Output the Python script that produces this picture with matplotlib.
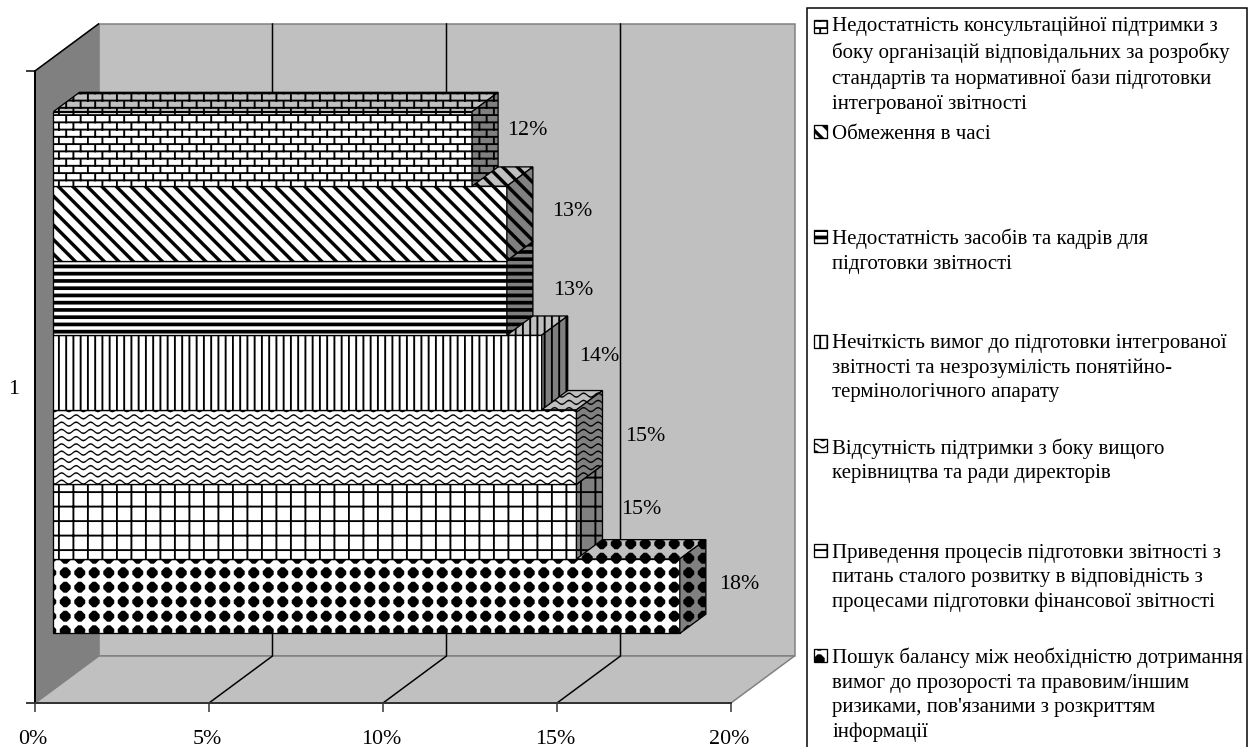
import warnings
import numpy as np
import matplotlib
matplotlib.use("Agg")
import matplotlib.pyplot as plt
import matplotlib.hatch as mhatch
from matplotlib.path import Path
from matplotlib.patches import Polygon, Rectangle
from matplotlib.legend_handler import HandlerPatch
from matplotlib.transforms import ScaledTranslation

warnings.filterwarnings("ignore")

# ---------- data (bottom bar first) ----------
values = [18.0, 15.03, 15.03, 14.03, 13.03, 13.03, 12.03]
category = "1"
x_ticks = [0, 5, 10, 15, 20]
labels = [
    ["Пошук балансу між необхідністю дотримання",
     "вимог до прозорості та правовим/іншим",
     "ризиками, пов'язаними з розкриттям", "інформації"],
    ["Приведення процесів підготовки звітності з",
     "питань сталого розвитку в відповідність з",
     "процесами підготовки фінансової звітності"],
    ["Відсутність підтримки з боку вищого",
     "керівництва та ради директорів"],
    ["Нечіткість вимог до підготовки інтегрованої",
     "звітності та незрозумілість понятійно-",
     "термінологічного апарату"],
    ["Недостатність засобів та кадрів для",
     "підготовки звітності"],
    ["Обмеження в часі"],
    ["Недостатність консультаційної підтримки з",
     "боку організацій відповідальних за розробку",
     "стандартів та нормативної бази підготовки",
     "інтегрованої звітності"],
]
patterns = ["d", "g", "w", "v", "h", "s", "b"]
label_offsets_px = [(59, 12), (65, 12), (69, 11), (58, 16), (66, 7), (65, 12), (55, 18)]

# ---------- figure geometry ----------
W, H, DPI = 1257, 747, 116
PT = 72 / DPI
AX_L, AX_R, AX_T, AX_B = 35, 731, 71, 703
BAR_PX = 74.55
GAP = 0.75
DEPTH_X_PX, DEPTH_Y_PX = 63.5, 47.0
BAR_D0, BAR_D1 = 0.29, 0.70
X_MAX = 20.0
Y_MAX = (AX_B - AX_T) / BAR_PX
DX = DEPTH_X_PX * X_MAX / (AX_R - AX_L)
DY = DEPTH_Y_PX / BAR_PX

LIGHT, DARK = "#c0c0c0", "#808080"
plt.rcParams["font.family"] = ["Liberation Serif", "DejaVu Serif"]
plt.rcParams["hatch.linewidth"] = 0.05


# ---------- 8x8 fill patterns as custom hatches ----------
def rect(x0, y0, x1, y1):
    return [(x0, y0), (x1, y0), (x1, y1), (x0, y1)]


def tile_polys(kind):
    n = 8                       # pattern repeats in one hatch tile
    c = 1 / (n * 8)             # one pattern cell
    polys = []
    if kind == "h":
        for k in range(2 * n):
            y = k / (2 * n)
            polys.append(rect(0, y, 1, y + 2 * c))
    elif kind == "v":
        for k in range(2 * n):
            x = k / (2 * n)
            polys.append(rect(x, 0, x + c, 1))
    elif kind == "g":
        for k in range(n):
            polys.append(rect(k / n, 0, k / n + c, 1))
            polys.append(rect(0, k / n, 1, k / n + c))
    elif kind == "b":
        for r in range(2 * n):
            y = r / (2 * n)
            polys.append(rect(0, y, 1, y + c))
            for k in range(n):
                x = (k + (0.5 if r % 2 else 0)) / n
                polys.append(rect(x, y, x + c, y + 1 / (2 * n)))
    elif kind == "s":
        w = 2.6 * c
        for k in range(-n, 2 * n):
            x = k / n
            polys.append([(x, 1), (x + w, 1), (x + w + 1, 0), (x + 1, 0)])
    elif kind == "w":
        th = 0.8 * c
        amp = 1.1 * c
        t = np.linspace(0, 1, 65)
        for r in range(2 * n):
            y0 = (r + 0.5) / (2 * n)
            y = y0 + amp * np.sin(2 * np.pi * n * t)
            polys.append(list(zip(t, y + th / 2)) + list(zip(t[::-1], (y - th / 2)[::-1])))
    elif kind == "d":
        a, b = 3.0 * c, 0.9 * c
        for i in range(n):
            for j in range(n):
                cx, cy = (i + .5) / n, (j + .5) / n
                polys.append([(cx - a, cy - b), (cx - b, cy - a), (cx + b, cy - a), (cx + a, cy - b),
                              (cx + a, cy + b), (cx + b, cy + a), (cx - b, cy + a), (cx - a, cy + b)])
    return polys


class TileHatch(mhatch.HatchPatternBase):
    def __init__(self, hatch, density):
        self.polys = []
        for ch in "hvgbswd":
            if ch in hatch:
                self.polys += tile_polys(ch)
        self.num_vertices = sum(len(p) + 1 for p in self.polys)

    def set_vertices_and_codes(self, vertices, codes):
        i = 0
        for p in self.polys:
            m = len(p)
            vertices[i:i + m] = p
            vertices[i + m] = p[0]
            codes[i] = Path.MOVETO
            codes[i + 1:i + m] = Path.LINETO
            codes[i + m] = Path.CLOSEPOLY
            i += m + 1


mhatch._hatch_types.append(TileHatch)


def proj(x, y, d):
    return (x + d * DX, y + d * DY)


# ---------- axes ----------
fig = plt.figure(figsize=(W / DPI, H / DPI), dpi=DPI, facecolor="white")
ax = fig.add_axes([AX_L / W, 1 - AX_B / H, (AX_R - AX_L) / W, (AX_B - AX_T) / H])
ax.set_xlim(0, X_MAX)
ax.set_ylim(0, Y_MAX)
ax.patch.set_visible(False)

# walls and floor
edge_lw = 1.5 * PT
ax.add_patch(Polygon([proj(0, 0, 1), proj(X_MAX, 0, 1), proj(X_MAX, Y_MAX, 1), proj(0, Y_MAX, 1)],
                     fc=LIGHT, ec=DARK, lw=edge_lw, clip_on=False, zorder=1))
ax.add_patch(Polygon([proj(0, 0, 0), proj(X_MAX, 0, 0), proj(X_MAX, 0, 1), proj(0, 0, 1)],
                     fc=LIGHT, ec=DARK, lw=edge_lw, clip_on=False, zorder=1))
ax.add_patch(Polygon([proj(0, 0, 0), proj(0, 0, 1), proj(0, Y_MAX, 1), proj(0, Y_MAX, 0)],
                     fc=DARK, ec=DARK, lw=edge_lw, clip_on=False, zorder=1))
ax.plot(*zip(proj(0, Y_MAX, 0), proj(0, Y_MAX, 1)), color="black", lw=1.5 * PT, clip_on=False, zorder=1.5)
for t in x_ticks[1:-1]:
    pts = [proj(t, 0, 0), proj(t, 0, 1), proj(t, Y_MAX, 1)]
    ax.plot(*zip(*pts), color="black", lw=1.5 * PT, clip_on=False, zorder=1.5, solid_joinstyle="miter")

# bars: lowest first, so each upper bar sits on the one below
bar_lw = 1.3 * PT
for i, (v, pat) in enumerate(zip(values, patterns)):
    y0 = GAP + i
    x_f, y_f = proj(0, y0, BAR_D0)
    ax.barh(y_f, v, left=x_f, height=1, align="edge", facecolor="white", edgecolor="black",
            hatch=pat, linewidth=bar_lw, zorder=3 + i, clip_on=False)
    top = [proj(0, y0 + 1, BAR_D0), proj(v, y0 + 1, BAR_D0), proj(v, y0 + 1, BAR_D1), proj(0, y0 + 1, BAR_D1)]
    side = [proj(v, y0, BAR_D0), proj(v, y0, BAR_D1), proj(v, y0 + 1, BAR_D1), proj(v, y0 + 1, BAR_D0)]
    ax.add_patch(Polygon(top, fc=LIGHT, ec="black", lw=bar_lw, hatch=pat, clip_on=False, zorder=3 + i))
    ax.add_patch(Polygon(side, fc=DARK, ec="black", lw=bar_lw, hatch=pat, clip_on=False, zorder=3 + i))
    xa, ya = proj(v, y0 + 0.5, BAR_D0)
    dxp, dyp = label_offsets_px[i]
    ax.annotate(f"{v:.0f}%", xy=(xa, ya), xytext=(dxp, dyp), textcoords="offset pixels",
                ha="center", va="center", fontsize=22 * PT, color="black", zorder=20,
                annotation_clip=False)

# axes decoration
for s in ("top", "right"):
    ax.spines[s].set_visible(False)
ax.spines["left"].set_linewidth(2 * PT)
ax.spines["bottom"].set_linewidth(2 * PT)
ax.spines["bottom"].set_color("#333333")
ax.set_xticks(x_ticks)
ax.set_xticklabels([f"{t}%" for t in x_ticks], fontsize=22 * PT)
ax.tick_params(axis="x", length=9 * PT, width=1.5 * PT, color="#333333", pad=18 * PT)
shift = ScaledTranslation(-2 / DPI, 0, fig.dpi_scale_trans)
for lab in ax.get_xticklabels():
    lab.set_transform(lab.get_transform() + shift)
ax.set_yticks([0, Y_MAX])
ax.set_yticklabels(["", ""])
ax.tick_params(axis="y", which="major", length=9 * PT, width=1.5 * PT)
ax.set_yticks([Y_MAX / 2], minor=True)
ax.set_yticklabels([category], minor=True, fontsize=22 * PT)
ax.tick_params(axis="y", which="minor", length=0, pad=16 * PT)

# ---------- legend ----------
FS = 20.9 * PT
LINE_PT = 25.45 * PT
KEY_PT = 13.0 * PT


def key_patch(legend, orig_handle, xdescent, ydescent, width, height, fontsize):
    return Rectangle((0, 1.5 * LINE_PT + 1.0), KEY_PT, KEY_PT)


handles = [Rectangle((0, 0), 1, 1, facecolor="white", edgecolor="black", hatch=p, linewidth=1.3 * PT)
           for p in patterns[::-1]]
texts = ["\n".join(l + [""] * (4 - len(l))) for l in labels[::-1]]
leg = fig.legend(handles, texts, loc="upper left", bbox_to_anchor=(805 / W, 1 - 8 / H),
                 bbox_transform=fig.transFigure, borderaxespad=0, frameon=False,
                 fontsize=FS, labelspacing=0.56, borderpad=0.43,
                 handlelength=KEY_PT / FS, handleheight=0.7, handletextpad=0.263,
                 handler_map={Rectangle: HandlerPatch(patch_func=key_patch)})
for t in leg.get_texts():
    t.set_linespacing(1.38)
fig.add_artist(Rectangle((806.5 / W, -0.02), (1247 - 806.5) / W, 1.02 - 8 / H, transform=fig.transFigure,
                         facecolor="none", edgecolor="black", linewidth=1.5 * PT, clip_on=False))

fig.savefig("out.png", dpi=DPI)
